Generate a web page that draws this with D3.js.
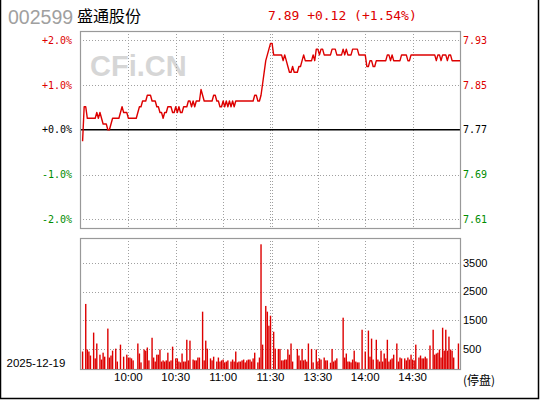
<!DOCTYPE html>
<html><head><meta charset="utf-8">
<script src="https://cdn.jsdelivr.net/npm/d3@7"></script>
<style>body{margin:0;background:#fff} svg{display:block}</style>
</head><body><svg id="c" width="540" height="400"></svg>
<script>
const stockCode = "002599";
const stockName = "盛通股份";
const quoteText = "7.89 +0.12 (+1.54%)";
const dateLabel = "2025-12-19";
const haltLabel = "(停盘)";
const watermark = "CFi.CN";
const prevClose = 7.77;
const pctTicks = [2, 1, 0, -1, -2];
const pctLabels = ["+2.0%", "+1.0%", "+0.0%", "-1.0%", "-2.0%"];
const priceLabels = ["7.93", "7.85", "7.77", "7.69", "7.61"];
const volTicks = [500, 1500, 2500, 3500];
const timeTicks = [30, 60, 90, 120, 150, 180, 210];
const timeLabels = ["10:00", "10:30", "11:00", "11:30", "13:30", "14:00", "14:30"];

// one value per minute, 9:31 .. 11:30, 13:01 .. 15:00
const prices = [
7.75,7.81,7.81,7.79,7.79,7.79,7.79,7.79,7.79,7.80,
7.79,7.80,7.79,7.78,7.78,7.78,7.77,7.77,7.78,7.79,
7.79,7.79,7.79,7.79,7.80,7.81,7.80,7.80,7.80,7.79,
7.79,7.79,7.79,7.79,7.79,7.80,7.81,7.81,7.82,7.82,
7.82,7.83,7.83,7.83,7.82,7.82,7.82,7.81,7.81,7.80,
7.80,7.79,7.80,7.80,7.81,7.81,7.81,7.80,7.80,7.81,
7.80,7.81,7.80,7.80,7.81,7.81,7.81,7.82,7.82,7.81,
7.82,7.81,7.82,7.82,7.82,7.84,7.83,7.82,7.82,7.82,
7.82,7.82,7.82,7.83,7.83,7.82,7.82,7.81,7.81,7.82,
7.81,7.82,7.81,7.82,7.81,7.82,7.81,7.82,7.82,7.82,
7.82,7.82,7.82,7.82,7.82,7.82,7.82,7.82,7.82,7.83,
7.83,7.82,7.82,7.83,7.85,7.87,7.89,7.90,7.91,7.92,
7.92,7.90,7.90,7.90,7.90,7.90,7.90,7.89,7.90,7.89,
7.88,7.87,7.87,7.88,7.87,7.87,7.87,7.88,7.88,7.89,
7.90,7.89,7.89,7.89,7.89,7.89,7.90,7.89,7.91,7.91,
7.90,7.91,7.91,7.90,7.90,7.90,7.90,7.90,7.91,7.91,
7.91,7.90,7.90,7.90,7.90,7.91,7.90,7.91,7.90,7.90,
7.90,7.91,7.91,7.91,7.91,7.90,7.90,7.90,7.90,7.90,
7.88,7.88,7.89,7.89,7.88,7.88,7.89,7.89,7.89,7.89,
7.89,7.89,7.89,7.90,7.90,7.89,7.90,7.89,7.89,7.89,
7.89,7.89,7.90,7.90,7.90,7.90,7.89,7.89,7.90,7.90,
7.90,7.90,7.90,7.90,7.90,7.90,7.90,7.90,7.90,7.90,
7.90,7.90,7.90,7.90,7.89,7.90,7.90,7.89,7.90,7.90,
7.90,7.89,7.90,7.90,7.89,7.89,7.89,7.89,7.89,7.89
];
const volumes = [
410,0,2070,480,410,270,0,1070,170,690,
0,300,130,370,230,0,1210,200,270,440,
0,510,60,0,650,0,230,0,300,200,
200,170,100,0,0,690,340,30,0,480,
440,550,100,0,890,200,60,300,300,480,
60,100,60,100,370,60,100,580,0,170,
170,60,30,340,60,60,820,100,790,0,
130,100,100,200,200,0,1800,100,790,510,
0,170,100,230,0,60,200,60,100,130,
30,60,100,0,60,130,60,410,30,60,
60,100,130,30,100,130,130,60,170,370,
0,30,200,4150,650,0,2000,1800,1310,1660,
0,1100,510,0,500,500,100,100,130,130,
480,300,690,60,0,0,500,270,100,500,
100,130,60,690,0,500,30,0,480,60,
170,130,0,200,100,100,0,20,500,60,
100,170,0,0,0,1590,200,340,60,60,
30,130,440,60,30,30,0,1170,0,410,
0,1140,230,860,130,0,820,130,60,440,
60,340,170,820,60,130,170,300,0,690,
60,200,170,0,170,100,200,130,300,130,
100,650,0,200,270,170,170,230,170,0,
620,0,1170,300,340,370,480,200,1240,440,
1170,440,930,480,440,200,0,0,690,0
];

const RED = "#dd0000", GREEN = "#008c00", GRID = "#a0a0a0";
const svg = d3.select("#c");

const x = d3.scaleLinear().domain([0, 240]).range([81, 460]);
const yPct = d3.scaleLinear().domain([-2, 2]).range([219.3, 40.3]);
const yVol = d3.scaleLinear().domain([-200, 4370]).range([369, 238]);

const P = {l: 80, r: 460, t: 31, b: 228};
const V = {l: 80, r: 460, t: 238, b: 369};

// outer frame
svg.append("path").attr("d", "M0.5,0 V398.5 H538.5 V0")
  .attr("fill", "none").attr("stroke", "#000").attr("stroke-width", 1.5);

// watermark
svg.append("text").text(watermark).attr("x", 90).attr("y", 76)
  .attr("font-family", "Liberation Sans, Arial, sans-serif").attr("font-weight", "bold")
  .attr("font-size", 29).attr("fill", "#d6d6d6");

// title
svg.append("text").text(stockCode).attr("x", 8).attr("y", 24)
  .attr("font-family", "Liberation Sans, Arial, sans-serif").attr("font-size", 19.5).attr("fill", "#a0a0a0");
svg.append("text").text(stockName).attr("x", 77).attr("y", 21.5)
  .attr("font-family", "Noto Sans CJK SC, sans-serif").attr("font-size", 16).attr("fill", "#000");
svg.append("text").text(quoteText).attr("x", 268).attr("y", 20)
  .attr("font-family", "DejaVu Sans Mono, monospace").attr("font-size", 13).attr("fill", RED);

const dotted = sel => sel.attr("stroke", GRID).attr("stroke-width", 1).attr("stroke-dasharray", "1,2").attr("fill", "none");

// horizontal price grid
pctTicks.filter(d => d !== 0).forEach(d => {
  const yy = Math.round(yPct(d)) + 0.5;
  svg.append("line").attr("x1", P.l).attr("x2", P.r).attr("y1", yy).attr("y2", yy).call(dotted);
});
// volume grid
volTicks.forEach(d => {
  const yy = Math.round(yVol(d)) + 0.5;
  svg.append("line").attr("x1", V.l).attr("x2", V.r).attr("y1", yy).attr("y2", yy).call(dotted);
});
// vertical grid
timeTicks.forEach(t => {
  const offs = t === 120 ? [-1, 1] : [0];
  offs.forEach(o => {
    const xx = Math.round(x(t) + o) + 0.5;
    svg.append("line").attr("x1", xx).attr("x2", xx).attr("y1", P.t).attr("y2", P.b).call(dotted);
    svg.append("line").attr("x1", xx).attr("x2", xx).attr("y1", V.t).attr("y2", V.b).call(dotted);
  });
});

// zero line
svg.append("line").attr("x1", P.l).attr("x2", P.r + 1).attr("y1", yPct(0)).attr("y2", yPct(0))
  .attr("stroke", "#000").attr("stroke-width", 1.5);

// frames
svg.append("rect").attr("x", P.l + 0.5).attr("y", P.t + 0.5).attr("width", P.r - P.l).attr("height", P.b - P.t)
  .attr("fill", "none").attr("stroke", "#999").attr("stroke-width", 1.2);
svg.append("rect").attr("x", V.l + 0.5).attr("y", V.t + 0.5).attr("width", V.r - V.l).attr("height", V.b - V.t)
  .attr("fill", "none").attr("stroke", "#999").attr("stroke-width", 1.2);

// price line
const pts = prices.map((p, i) => [i + 1, (p - prevClose) / prevClose * 100]);
svg.append("path").datum(pts)
  .attr("d", d3.line().x(d => x(d[0])).y(d => yPct(d[1])))
  .attr("fill", "none").attr("stroke", RED).attr("stroke-width", 1.4).attr("stroke-linejoin", "round");

// volume bars
svg.append("g").selectAll("rect").data(volumes.map((v, i) => [i + 1, v]).filter(d => d[1] > 0))
  .join("rect")
  .attr("x", d => x(d[0]) - 0.7).attr("width", 1.4)
  .attr("y", d => yVol(d[1])).attr("height", d => yVol.range()[0] - yVol(d[1]))
  .attr("fill", RED);

// left percent labels
const pctColor = d => d > 0 ? RED : (d < 0 ? GREEN : "#000");
pctTicks.forEach((d, k) => {
  svg.append("text").text(pctLabels[k]).attr("x", 72).attr("y", yPct(d)).attr("dy", "0.35em")
    .attr("text-anchor", "end").attr("font-family", "DejaVu Sans Mono, monospace").attr("font-size", 10)
    .attr("fill", pctColor(d));
  svg.append("text").text(priceLabels[k]).attr("x", 463).attr("y", yPct(d)).attr("dy", "0.35em")
    .attr("font-family", "DejaVu Sans Mono, monospace").attr("font-size", 10)
    .attr("fill", pctColor(d));
});

// volume labels
volTicks.forEach(d => {
  svg.append("text").text(d).attr("x", 463).attr("y", yVol(d)).attr("dy", "0.35em")
    .attr("font-family", "Liberation Sans, Arial, sans-serif").attr("font-size", 11).attr("fill", "#000");
});

// time labels
timeTicks.forEach((t, k) => {
  svg.append("text").text(timeLabels[k]).attr("x", x(t)).attr("y", 381)
    .attr("text-anchor", "middle").attr("font-family", "Liberation Sans, Arial, sans-serif")
    .attr("font-size", 11.5).attr("fill", "#000");
});
svg.append("text").text(haltLabel).attr("x", 463).attr("y", 384.5)
  .attr("font-family", "Noto Sans CJK SC, sans-serif").attr("font-size", 12).attr("fill", "#000");
svg.append("text").text(dateLabel).attr("x", 6.5).attr("y", 366.5)
  .attr("font-family", "Liberation Sans, Arial, sans-serif").attr("font-size", 11.5).attr("fill", "#000");
</script></body></html>
